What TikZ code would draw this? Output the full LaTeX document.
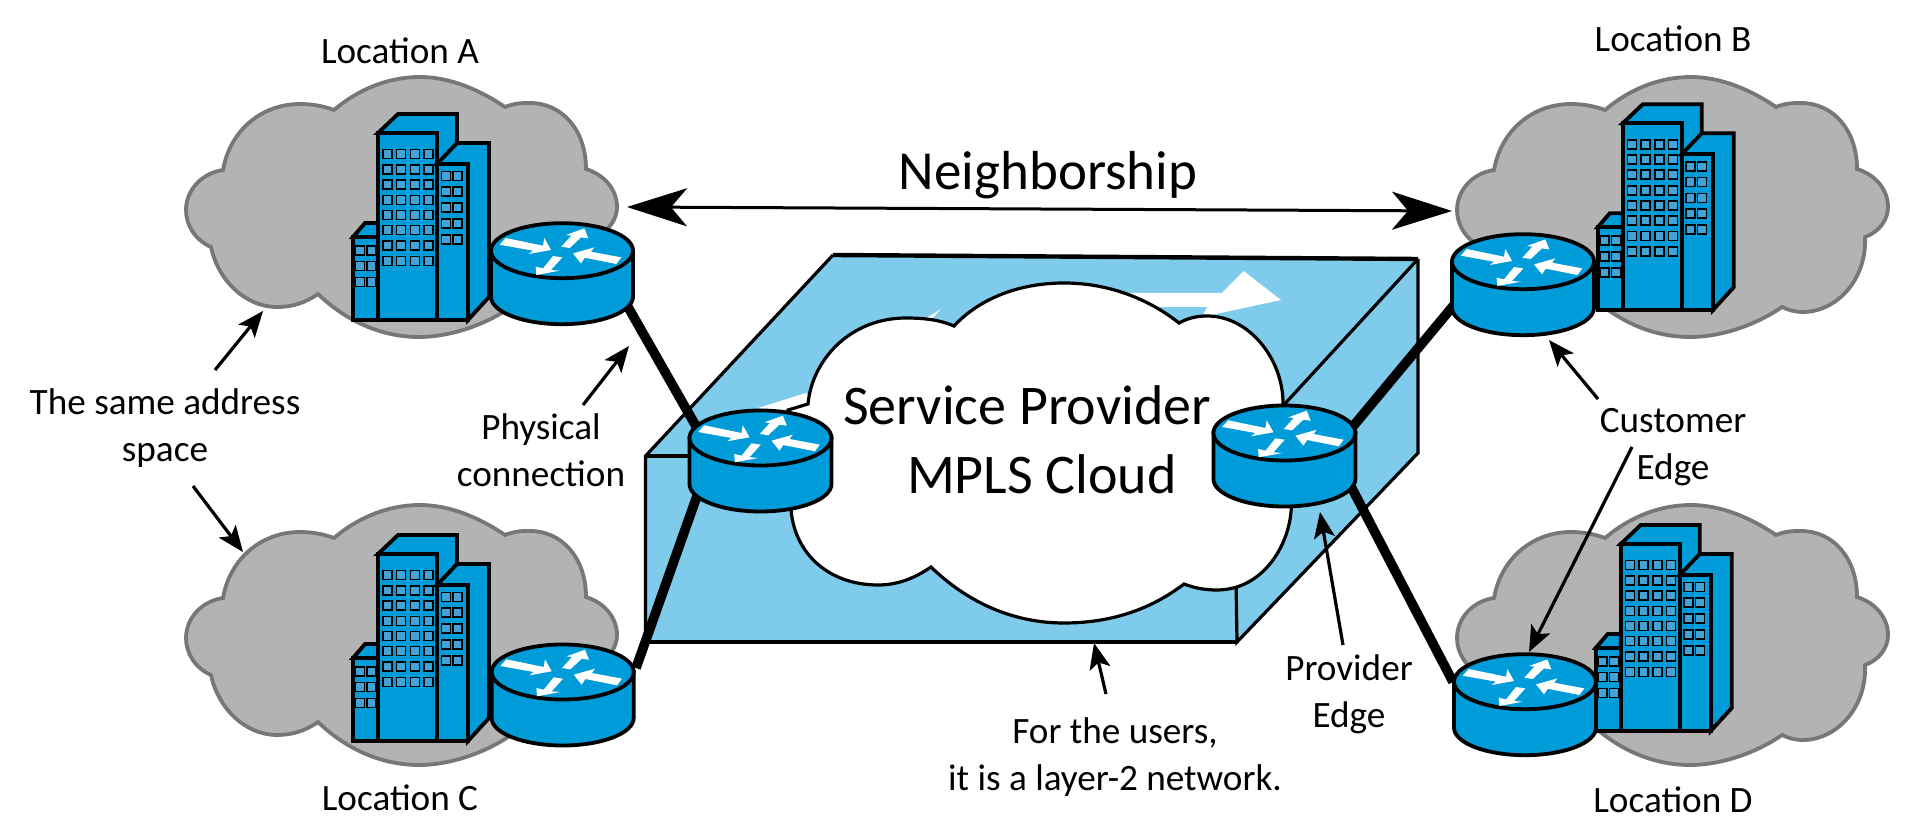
\documentclass[tikz,border=0pt]{standalone}
\usepackage{fontspec}
\setmainfont{Carlito}
\usetikzlibrary{arrows.meta,calc}
\definecolor{cloudfill}{HTML}{B3B3B3}
\definecolor{cloudline}{HTML}{777777}
\definecolor{netblue}{HTML}{009CDA}
\definecolor{winblue}{HTML}{43A3D6}
\definecolor{boxblue}{HTML}{7FCBEB}
\tikzset{
  graycloud/.style={fill=cloudfill,draw=cloudline,line width=1.9pt,line join=miter},
  whitecloud/.style={fill=white,draw=black,line width=1.6pt,line join=miter},
  bldg/.style={fill=netblue,draw=black,line width=1.9pt,line join=miter},
  winbox/.style={fill=winblue,draw=black,line width=0.85pt},
  routerpart/.style={fill=netblue,draw=black,line width=1.9pt},
  flowarrow/.style={fill=white,draw=none},
  hub/.style={inner sep=0pt,outer sep=0pt,minimum width=71pt,minimum height=37pt,draw=none},
  phys/.style={line width=4.8pt,line cap=butt},
  note/.style={-{Stealth[length=13pt,width=10.5pt,inset=3pt]},line width=1.6pt},
  neigh/.style={{Stealth[length=30pt,width=19pt,inset=8pt]}-{Stealth[length=30pt,width=19pt,inset=8pt]},line width=1.5pt},
  boxedge/.style={draw=black,line width=1.6pt,line join=miter},
  boxedgeheavy/.style={draw=black,line width=2.2pt,line join=miter},
  lbl/.style={inner sep=0pt,align=center,font=\fontsize{18.6}{23.5}\selectfont},
  lblbig/.style={inner sep=0pt,align=center,font=\fontsize{28}{34.5}\selectfont},
}
\newcommand{\siteCloud}[2]{%
\begin{scope}[shift={(#1,#2)}]
\draw[graycloud] (334,110) .. controls (360,88) and (390,77) .. (420,77)
 .. controls (450,77) and (480,90) .. (505,107)
 .. controls (515,103) and (522,103) .. (530,103)
 .. controls (562,103) and (586,130) .. (586,169)
 .. controls (605,175) and (617,190) .. (617,207)
 .. controls (617,220) and (608,232) .. (594,237)
 .. controls (596,280) and (565,312) .. (532,312)
 .. controls (524,312) and (517,310) .. (511,307)
 .. controls (485,325) and (450,337) .. (419,337)
 .. controls (380,337) and (345,320) .. (318,294)
 .. controls (305,303) and (292,307) .. (277,307)
 .. controls (245,307) and (218,280) .. (211,247)
 .. controls (195,240) and (186,225) .. (186,210)
 .. controls (186,190) and (202,173) .. (223,170)
 .. controls (230,130) and (262,104) .. (300,104)
 .. controls (312,104) and (323,106) .. (334,110) -- cycle;
\end{scope}}
\newcommand{\towerGroup}[2]{%
\begin{scope}[shift={(#1,#2)}]
\draw[bldg] (378,133) -- (398,114) -- (457,114) -- (457,160) -- (437,170) -- (437,133) -- cycle;
\draw[bldg] (378,133) rectangle (437,320);
\draw[bldg] (437,164) -- (457,143) -- (489,143) -- (489,297) -- (468,320) -- (468,164) -- cycle;
\draw[bldg] (437,164) rectangle (468,320);
\draw[bldg] (353,237) -- (365,223) -- (378,223) -- (378,237) -- cycle;
\draw[bldg] (353,237) rectangle (378,320);
\foreach \wy in {154,169.3,184.3,200,215,230,245.7,261}
  \foreach \wx in {387.3,401,415,428.3}
    \draw[winbox] (\wx-4.4,\wy-4.4) rectangle (\wx+4.4,\wy+4.4);
\foreach \wy in {176,191.7,207.7,223.3,239.3}
  \foreach \wx in {446,457.3}
    \draw[winbox] (\wx-4.4,\wy-4.4) rectangle (\wx+4.4,\wy+4.4);
\foreach \wy in {250.3,266,282}
  \foreach \wx in {360,371.3}
    \draw[winbox] (\wx-4.4,\wy-4.4) rectangle (\wx+4.4,\wy+4.4);
\end{scope}}
% router: #1,#2 = centre of the top disc
\newcommand{\routerIcon}[2]{%
\begin{scope}[shift={(#1,#2)}]
\draw[routerpart] (-71,0) -- (-71,46) arc[start angle=180,end angle=0,x radius=71,y radius=27.5] -- (71,0) -- cycle;
\draw[routerpart] (0,0) ellipse [x radius=71,y radius=27.5];
\fill[flowarrow] (-62.3,-6) -- (-56.3,-12.7) -- (-19,-5) -- (-17.7,-12.7) -- (-11,-0.7) -- (-33.3,3.3) -- (-29,0) -- cycle;
\fill[flowarrow] (-0.7,-4) -- (9.3,-15) -- (4,-15.7) -- (22.3,-22.3) -- (26.3,-12.3) -- (19,-13.3) -- (7.7,-2.7) -- cycle;
\fill[flowarrow] (11,2.7) -- (32.3,-3.3) -- (29,1) -- (59.3,6.7) -- (54.3,13.3) -- (22.7,7) -- (19,12.7) -- cycle;
\fill[flowarrow] (-25.7,24.3) -- (-26.3,16) -- (-19,17.7) -- (-9,5.3) -- (0.3,6.7) -- (-11,19.3) -- (-2.3,20) -- cycle;
\end{scope}}
\begin{document}
\begin{tikzpicture}[x=0.5pt,y=-0.5pt]
\useasboundingbox (0,0) rectangle (1920,838);
% site clouds
\siteCloud{0}{0}
\siteCloud{1271}{0}
\siteCloud{0}{428}
\siteCloud{1271}{428}
% provider box
\fill[boxblue] (645.5,456) -- (833,255) -- (1418,259) -- (1418,453) -- (1237,642) -- (645.5,642) -- cycle;
\draw[boxedgeheavy] (833,255) -- (1418,259);
\draw[boxedgeheavy] (645.5,642) -- (1237,642);
\draw[boxedge] (645.5,642) -- (645.5,456) -- (833,255);
\draw[boxedge] (645.5,456) -- (700,456);
\draw[boxedge] (1418,259) -- (1418,453) -- (1237,642) -- (1236,580);
\draw[boxedge] (1418,259) -- (1270,420);
% big white arrow on the top face
\fill[flowarrow] (1130,293) -- (1222,293) -- (1243.5,271) -- (1281,300) -- (1202,317) -- (1207,307) -- (1120,307) -- cycle;
\fill[flowarrow] (941,309) -- (931,320) -- (915,325) -- cycle;
\fill[flowarrow] (806,393) -- (758,408) -- (790,415) -- (815,405) -- cycle;
% central cloud
\draw[whitecloud] (954,326) .. controls (980,298) and (1020,283) .. (1064,283)
 .. controls (1110,283) and (1150,300) .. (1179,323)
 .. controls (1188,318) and (1197,316) .. (1207,316)
 .. controls (1250,316) and (1283,360) .. (1283,403)
 -- (1290,490) .. controls (1298,530) and (1270,590) .. (1217,590)
 .. controls (1205,590) and (1194,588) .. (1184,584)
 .. controls (1150,610) and (1110,623) .. (1064,623)
 .. controls (1010,623) and (965,600) .. (931,567)
 .. controls (915,578) and (898,585) .. (878,585)
 .. controls (830,585) and (795,555) .. (791,510)
 -- (785,420) -- (788,410) -- (808,404)
 .. controls (812,360) and (850,318) .. (906,318)
 .. controls (925,318) and (940,320) .. (954,326) -- cycle;
% routers (named hubs)
\node[hub] (ra) at (562,273.7) {};
\node[hub] (rb) at (1523,284.7) {};
\node[hub] (rc) at (562.7,695) {};
\node[hub] (rd) at (1525,704.7) {};
\node[hub] (pl) at (760.5,461) {};
\node[hub] (pr) at (1284.4,456) {};
% physical links
\draw[phys] ($(ra.center)+(58,19.3)$) -- ($(pl.center)+(-55.5,-19)$);
\draw[phys] ($(rc.center)+(73.3,-27)$) -- ($(pl.center)+(-57.5,18)$);
\draw[phys] ($(rb.center)+(-63,13)$) -- ($(pr.center)+(60.6,-20)$);
\draw[phys] ($(rd.center)+(-72,-22.7)$) -- ($(pr.center)+(60.6,19)$);
% buildings
\towerGroup{0}{0}
\towerGroup{1244.7}{-9.7}
\towerGroup{0}{421}
\towerGroup{1242.7}{411}
% routers
\routerIcon{562}{250.7}
\routerIcon{1523}{261.7}
\routerIcon{562.7}{672}
\routerIcon{1525}{681.7}
\routerIcon{760.5}{438}
\routerIcon{1284.4}{433}
% labels
\node[lbl] (la) at (400,51) {Location A};
\node[lbl] (lb) at (1673,39) {Location B};
\node[lbl] (lc) at (400,798) {Location C};
\node[lbl] (ld) at (1673,800) {Location D};
\node[lbl,font=\fontsize{27.5}{33}\selectfont] (nb) at (1048,175) {Neighborship};
\node[lbl] (sa) at (165,428) {The same address\\space};
\node[lbl] (pc) at (541,450.5) {Physical\\connection};
\node[lblbig] (sp1) at (1027,405) {Service Provider};
\node[lblbig] (sp2) at (1042,474) {MPLS Cloud};
\node[lbl] (ce) at (1673,447.5) {Customer\\Edge};
\node[lbl] (pe) at (1349,694) {Provider\\Edge};
\node[lbl] (lt) at (1115,757) {For the users,\\it is a layer-2 network.};
% annotation arrows
\coordinate (nbl) at (627,207);
\coordinate (nbr) at (1452,211);
\draw[neigh] (nbl) -- (nbr);
\coordinate (a1s) at (215,370); \coordinate (a1e) at (263,311);
\draw[note] (a1s) -- (a1e);
\coordinate (a2s) at (193,486); \coordinate (a2e) at (243,552);
\draw[note] (a2s) -- (a2e);
\coordinate (a3s) at (583,405); \coordinate (a3e) at (629,346);
\draw[note] (a3s) -- (a3e);
\coordinate (a4s) at (1598,399); \coordinate (a4e) at (1549,340);
\draw[note] (a4s) -- (a4e);
\coordinate (a5s) at (1632,447); \coordinate (a5e) at (1529,652);
\draw[note] (a5s) -- (a5e);
\coordinate (a6s) at (1343,645); \coordinate (a6e) at (1320,512);
\draw[note] (a6s) -- (a6e);
\coordinate (a7s) at (1106,694); \coordinate (a7e) at (1094,643);
\draw[note] (a7s) -- (a7e);
\end{tikzpicture}
\end{document}
